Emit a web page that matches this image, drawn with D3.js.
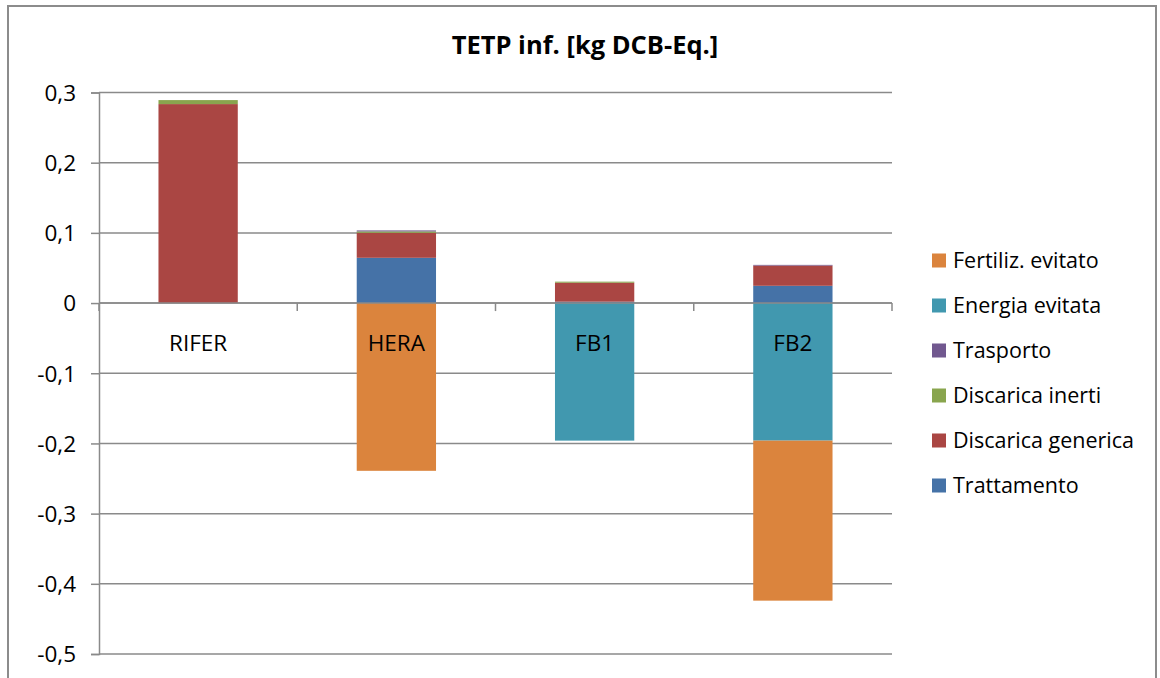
<!DOCTYPE html>
<html>
<head>
<meta charset="utf-8">
<script src="https://cdn.jsdelivr.net/npm/d3@7"></script>
<style>
  html, body { margin: 0; padding: 0; background: #fff; }
  svg text { font-family: "Open Sans", Lato, sans-serif; fill: #000; }
</style>
</head>
<body>
<svg id="chart" width="1160" height="678"></svg>
<script>
// Scenarios on the category axis
const categories = ["RIFER", "HERA", "FB1", "FB2"];

// Contribution of each phase, in kg DCB-Eq. (stacking order, bottom first)
const trattamento       = [0.000, 0.0645, 0.002, 0.0246];
const discaricaGenerica = [0.2835, 0.0356, 0.027, 0.0288];
const discaricaInerti   = [0.0057, 0.0020, 0.0015, 0.000];
const trasporto         = [0.000, 0.0014, 0.000, 0.0010];
const energiaEvitata    = [0.000, 0.000, -0.196, -0.196];
const fertilizEvitato   = [0.000, -0.239, 0.000, -0.228];

const seriesNames = ["Trattamento", "Discarica generica", "Discarica inerti", "Trasporto", "Energia evitata", "Fertiliz. evitato"];
const seriesValues = [trattamento, discaricaGenerica, discaricaInerti, trasporto, energiaEvitata, fertilizEvitato];
const seriesColors = ["#4572A7", "#AA4643", "#89A54E", "#71588F", "#4198AF", "#DB843D"];

const yTicks = [0.3, 0.2, 0.1, 0, -0.1, -0.2, -0.3, -0.4, -0.5];
const title = "TETP inf. [kg DCB-Eq.]";

const svg = d3.select("#chart");
const plot = { left: 99, right: 892, top: 92.5, bottom: 654 };

// Outer chart frame
svg.append("path")
  .attr("d", "M8,690 L8,6 L1156,6 L1156,690")
  .attr("fill", "none").attr("stroke", "#8c8c8c").attr("stroke-width", 2);

const x = d3.scaleBand().domain(categories).range([plot.left, plot.right]).paddingInner(0.6).paddingOuter(0.3);
const xb = d3.scaleBand().domain(categories).range([plot.left, plot.right]);
const y = d3.scaleLinear().domain([-0.5, 0.3]).range([plot.bottom, plot.top]);

// Horizontal gridlines
svg.append("g").selectAll("line").data(yTicks).join("line")
  .attr("x1", plot.left).attr("x2", plot.right)
  .attr("y1", d => y(d)).attr("y2", d => y(d))
  .attr("stroke", "#8a8a8a").attr("stroke-width", 1.5);

// Table of rows for d3.stack
const table = categories.map((c, i) => {
  const row = { cat: c };
  seriesNames.forEach((s, k) => row[s] = seriesValues[k][i]);
  return row;
});
const stacked = d3.stack().keys(seriesNames).offset(d3.stackOffsetDiverging)(table);

// Bars
svg.append("g").selectAll("g").data(stacked).join("g")
  .attr("fill", (d, i) => seriesColors[i])
  .selectAll("rect").data(d => d).join("rect")
  .attr("x", d => x(d.data.cat))
  .attr("width", x.bandwidth())
  .attr("y", d => y(Math.max(d[0], d[1])))
  .attr("height", d => Math.abs(y(d[0]) - y(d[1])));

// Value axis
const yAxis = svg.append("g").attr("transform", `translate(${plot.left},0)`)
  .call(d3.axisLeft(y).tickValues(yTicks).tickSize(8).tickPadding(15)
    .tickFormat(d => d3.format(".1f")(d).replace(".", ",").replace("−", "-").replace("0,0", "0")));
yAxis.select(".domain").attr("stroke", "#8a8a8a").attr("stroke-width", 1.5);
yAxis.selectAll(".tick line").attr("stroke", "#8a8a8a").attr("stroke-width", 1.5);
yAxis.selectAll("text").style("font-size", "22.5px").attr("dy", "0.35em");

// Category axis at zero
const zeroY = y(0);
svg.append("line").attr("x1", plot.left).attr("x2", plot.right)
  .attr("y1", zeroY).attr("y2", zeroY).attr("stroke", "#8a8a8a").attr("stroke-width", 1.5);
const bounds = categories.map(c => xb(c)).concat([plot.right]);
svg.append("g").selectAll("line").data(bounds).join("line")
  .attr("x1", d => d).attr("x2", d => d)
  .attr("y1", zeroY).attr("y2", zeroY + 8)
  .attr("stroke", "#8a8a8a").attr("stroke-width", 1.5);
svg.append("g").selectAll("text").data(categories).join("text")
  .attr("x", d => xb(d) + xb.bandwidth() / 2)
  .attr("y", zeroY + 48)
  .attr("text-anchor", "middle")
  .style("font-size", "22.5px")
  .text(d => d);

// Title
svg.append("text").attr("x", 585).attr("y", 54)
  .attr("text-anchor", "middle")
  .style("font-size", "25.5px").style("font-weight", "bold")
  .text(title);

// Legend (top entry is the last series)
const legendOrder = seriesNames.map((n, i) => i).reverse();
const lg = svg.append("g").selectAll("g").data(legendOrder).join("g")
  .attr("transform", (d, j) => `translate(932,${260.5 + j * 45})`);
lg.append("rect").attr("x", 0).attr("y", -7).attr("width", 14).attr("height", 14)
  .attr("fill", d => seriesColors[d]);
lg.append("text").attr("x", 21).attr("y", 0).attr("dy", "0.35em")
  .style("font-size", "21.5px")
  .text(d => seriesNames[d]);
</script>
</body>
</html>
